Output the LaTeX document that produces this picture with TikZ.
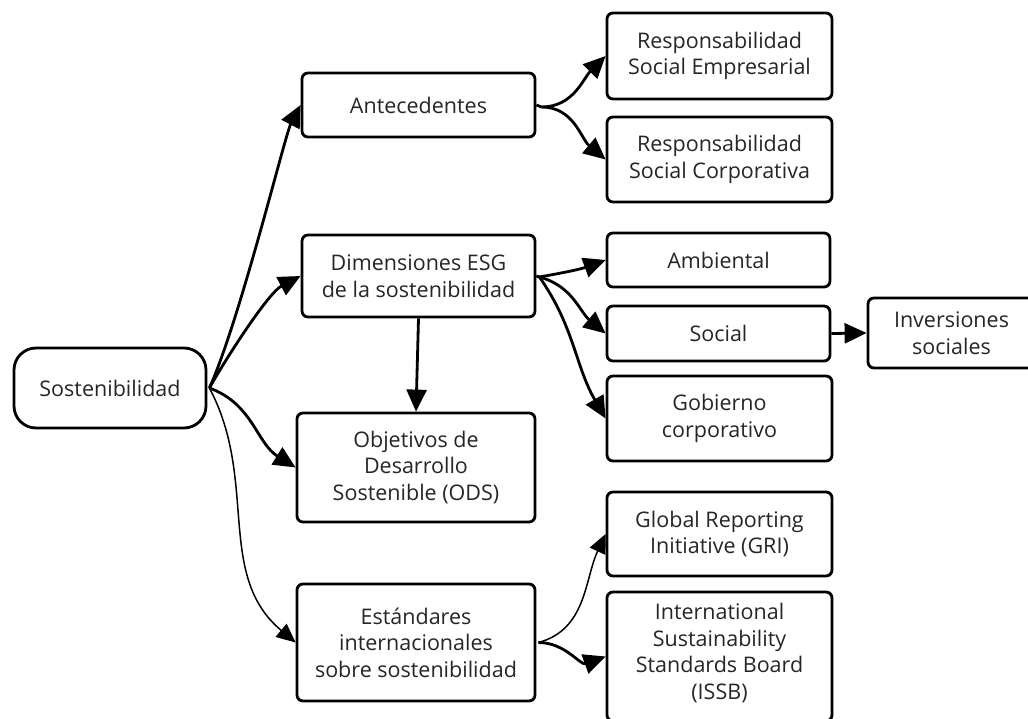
\documentclass[tikz,border=0pt]{standalone}
\usepackage{fontspec}
\setmainfont{Open Sans}
\usetikzlibrary{arrows.meta,calc}
\definecolor{txt}{HTML}{262626}
\tikzset{
  box/.style={draw=black, line width=2.8pt, rounded corners=6pt, align=center,
    inner sep=0pt, text=txt, font=\fontsize{21.5}{26.5}\selectfont},
  conn/.style={line width=2.8pt, -{Triangle[length=22pt,width=20pt]}},
  thinconn/.style={line width=1.5pt, -{Triangle[length=19pt,width=17pt]}},
}
\newcommand{\bx}[6]{% name, x1, y1, x2, y2, text
  \node[box, minimum width=#4pt-#2pt, minimum height=#5pt-#3pt] (#1) at ({(#2+#4)/2},{(#3+#5)/2}) {#6};}
\begin{document}
\begin{tikzpicture}[x=1pt,y=-1pt]
\useasboundingbox (0,0) rectangle (1028,719);
\fill[white] (0,0) rectangle (1028,719);
\node[box, rounded corners=22pt, minimum width=192pt, minimum height=80pt] (sost) at (110,388) {Sostenibilidad};
\bx{ant}{302}{73}{535}{137}{Antecedentes}
\bx{dim}{302}{235}{535}{317}{Dimensiones ESG\\de la sostenibilidad}
\bx{obj}{297}{413}{535}{522}{Objetivos de\\Desarrollo\\Sostenible (ODS)}
\bx{est}{297}{584}{535}{701}{Estándares\\internacionales\\sobre sostenibilidad}
\bx{rse}{607}{13}{832}{99}{Responsabilidad\\Social Empresarial}
\bx{rsc}{607}{117}{832}{202}{Responsabilidad\\Social Corporativa}
\bx{amb}{607}{233}{830}{287}{Ambiental}
\bx{soc}{607}{306}{830}{361}{Social}
\bx{inv}{868}{298}{1035}{368}{Inversiones\\sociales}
\bx{gob}{607}{376}{832}{461}{Gobierno\\corporativo}
\bx{gri}{607}{492}{832}{576}{Global Reporting\\Initiative (GRI)}
\bx{issb}{607}{592}{832}{721}{\mbox{}\\[-17pt]International\\Sustainability\\Standards Board\\(ISSB)}
% connectors from Sostenibilidad
\coordinate (sf) at ($(sost.east)+(2,0)$);
\draw[conn] (sf) .. controls (240,320) and (285,135) .. (ant.west);
\draw[conn] (sf) .. controls (225,360) and (268,293) .. (dim.west);
\draw[conn] (sf) to[out=-20,in=148] (obj.west);
\draw[thinconn] (sf) to[out=-62,in=140] (est.west);
% Antecedentes
\coordinate (af) at ($(ant.east)+(5,2)$);
\draw[line width=2.8pt] (ant.east) -- (af);
\draw[conn] (af) to[out=0,in=225] (rse.west);
\draw[conn] (af) to[out=0,in=140] (rsc.west);
% Dimensiones
\coordinate (df) at ($(dim.east)+(3,1)$);
\draw[line width=2.8pt] (dim.east) -- (df);
\draw[conn] (df) to[out=10,in=200] (amb.west);
\draw[conn] (df) to[out=-15,in=140] (soc.west);
\draw[conn] (df) to[out=-55,in=120] (gob.west);
\draw[conn] (dim.south) -- (obj.north);
% Social
\draw[conn] (soc.east) -- (inv.west);
% Estandares
\coordinate (ef) at ($(est.east)+(2,0)$);
\draw[thinconn] (ef) to[out=15,in=245] (gri.west);
\draw[conn] (ef) to[out=0,in=200] (issb.west);
\end{tikzpicture}
\end{document}
